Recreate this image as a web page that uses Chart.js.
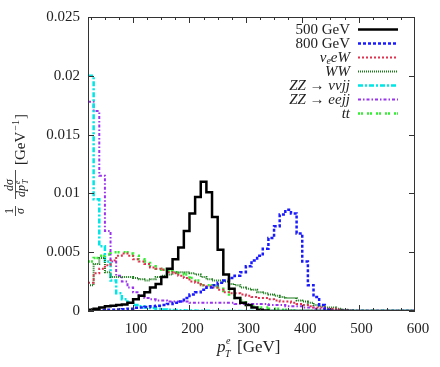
<!DOCTYPE html>
<html>
<head>
<meta charset="utf-8">
<script src="https://cdn.jsdelivr.net/npm/chart.js@4.4.1/dist/chart.umd.min.js"></script>
<style>
  html, body { margin: 0; padding: 0; background: #fff; }
  #wrap { width: 440px; height: 367px; }
</style>
</head>
<body>
<div id="wrap"><canvas id="ptChart" width="440" height="367"></canvas></div>
<script>
// electron pT histograms, 10 GeV bins from 20 to 600 GeV
const binLow = Array.from({ length: 58 }, (_, i) => 20 + 10 * i);
const xMax = 600;
const xTicks = [100, 200, 300, 400, 500, 600];
const yTicks = [0, 0.005, 0.01, 0.015, 0.02, 0.025];
const seriesNames = ['500 GeV', '800 GeV', 'νeeW', 'WW', 'ZZ → ννjj', 'ZZ → eejj', 'tt'];

const sig500 = [0.0001, 0.0002, 0.0003, 0.0004, 0.00045, 0.0005, 0.00055, 0.0007, 0.001, 0.0013,
  0.0016, 0.002, 0.0023, 0.0029, 0.0036, 0.0044, 0.0054, 0.0068, 0.0083, 0.0097,
  0.011, 0.0101, 0.008, 0.0052, 0.0031, 0.0019, 0.0011, 0.0007, 0.0005, 0.0003,
  0.0001, 0.00005, 0, 0, 0, 0, 0, 0, 0, 0,
  0, 0, 0, 0, 0, 0, 0, 0, 0, 0,
  0, 0, 0, 0, 0, 0, 0, 0];
const sig800 = [0.00003, 0.00005, 0.00007, 0.0001, 0.0001, 0.00012, 0.00015, 0.0002, 0.00028, 0.0003,
  0.00035, 0.0004, 0.00045, 0.0005, 0.0006, 0.0007, 0.0008, 0.0011, 0.0014, 0.0016,
  0.0018, 0.002, 0.0022, 0.0024, 0.0026, 0.0028, 0.003, 0.0033, 0.0038, 0.0043,
  0.0047, 0.0053, 0.0062, 0.0072, 0.0082, 0.0086, 0.0083, 0.0066, 0.0042, 0.0022,
  0.0012, 0.0005, 0.0001, 0, 0, 0, 0, 0, 0, 0,
  0, 0, 0, 0, 0, 0, 0, 0];
const nueW = [0.0024, 0.0032, 0.0036, 0.0039, 0.0043, 0.0047, 0.0049, 0.0047, 0.0044, 0.0042,
  0.004, 0.0037, 0.0036, 0.0035, 0.0033, 0.0032, 0.003, 0.0028, 0.0025, 0.0024,
  0.0022, 0.0021, 0.002, 0.0018, 0.0016, 0.0015, 0.0015, 0.0014, 0.0013, 0.0012,
  0.0011, 0.0011, 0.001, 0.0009, 0.0008, 0.0008, 0.0007, 0.0006, 0.0005, 0.0004,
  0.0003, 0.0003, 0.0002, 0.0002, 0.0001, 0.00005, 0.00003, 0, 0, 0,
  0, 0, 0, 0, 0, 0, 0, 0];
const ww = [0.0022, 0.004, 0.0045, 0.0033, 0.0029, 0.0029, 0.0029, 0.0029, 0.0028, 0.0027,
  0.0026, 0.0027, 0.0029, 0.003, 0.0031, 0.0033, 0.0033, 0.0033, 0.0032, 0.0031,
  0.0029, 0.0027, 0.0026, 0.0026, 0.0025, 0.0023, 0.0022, 0.002, 0.0019, 0.0018,
  0.0016, 0.0015, 0.0014, 0.0013, 0.0012, 0.0011, 0.0011, 0.0009, 0.0008, 0.0007,
  0.0005, 0.0004, 0.0003, 0.0003, 0.0002, 0.0001, 0.00005, 0, 0, 0,
  0, 0, 0, 0, 0, 0, 0, 0];
const zzvv = [0.02, 0.0095, 0.0055, 0.0042, 0.0026, 0.0015, 0.001, 0.0007, 0.0005, 0.0004,
  0.0003, 0.00025, 0.0002, 0.00012, 0.0001, 0.00008, 0.00006, 0.00005, 0.00004, 0.00003,
  0.00002, 0.00002, 0.00001, 0.00001, 0, 0, 0, 0, 0, 0,
  0, 0, 0, 0, 0, 0, 0, 0, 0, 0,
  0, 0, 0, 0, 0, 0, 0, 0, 0, 0,
  0, 0, 0, 0, 0, 0, 0, 0];
const zzee = [0.0178, 0.017, 0.0115, 0.0068, 0.0042, 0.003, 0.0025, 0.002, 0.0016, 0.0013,
  0.0011, 0.001, 0.0009, 0.0009, 0.0008, 0.0008, 0.0008, 0.0008, 0.0007, 0.0007,
  0.0007, 0.0007, 0.0007, 0.0007, 0.0007, 0.0007, 0.0006, 0.0006, 0.0006, 0.0006,
  0.0006, 0.0006, 0.0005, 0.0005, 0.0005, 0.0004, 0.0004, 0.0004, 0.0003, 0.0003,
  0.0002, 0.0002, 0.00015, 0.0001, 0.0001, 0.00005, 0.00003, 0, 0, 0,
  0, 0, 0, 0, 0, 0, 0, 0];
const ttbar = [0.0042, 0.0045, 0.0047, 0.0048, 0.005, 0.005, 0.005, 0.0049, 0.0047, 0.0044,
  0.0042, 0.0038, 0.0036, 0.0035, 0.0034, 0.0033, 0.0032, 0.0031, 0.0028, 0.0026,
  0.0022, 0.0022, 0.0021, 0.002, 0.0017, 0.0014, 0.0011, 0.0009, 0.0005, 0.0004,
  0.0003, 0.0003, 0.0002, 0.0002, 0.0001, 0.0001, 0.00005, 0, 0, 0,
  0, 0, 0, 0, 0, 0, 0, 0, 0, 0,
  0, 0, 0, 0, 0, 0, 0, 0];

const serif = '"Liberation Serif", "DejaVu Serif", serif';
const textColor = '#222';

// legend labels with italic / subscript pieces
const legendParts = [
  [['500 GeV', 'r']],
  [['800 GeV', 'r']],
  [['ν', 'i'], ['e', 's'], ['eW', 'i']],
  [['WW', 'i']],
  [['ZZ', 'i'], [' → ', 'r'], ['ννjj', 'i']],
  [['ZZ', 'i'], [' → ', 'r'], ['eejj', 'i']],
  [['tt', 'i']]
];

// histogram as left-edge steps, closed at the right edge
function histPoints(vals) {
  const pts = binLow.map((x, i) => ({ x: x, y: vals[i] }));
  pts.push({ x: xMax, y: vals[vals.length - 1] });
  return pts;
}

function makeSet(idx, vals, color, width, dash) {
  return {
    label: seriesNames[idx],
    data: histPoints(vals),
    borderColor: color,
    backgroundColor: color,
    borderWidth: width,
    borderDash: dash,
    stepped: true,
    pointRadius: 0,
    fill: false
  };
}

function fontFor(kind) {
  if (kind === 'r') return '15px ' + serif;
  if (kind === 'i') return 'italic 15px ' + serif;
  return 'italic 10px ' + serif;
}

const decorPlugin = {
  id: 'decor',
  afterDraw(chart) {
    const ctx = chart.ctx;
    const a = chart.chartArea;
    const xs = chart.scales.x;
    const ys = chart.scales.y;
    ctx.save();

    // frame
    ctx.strokeStyle = '#333';
    ctx.lineWidth = 1;
    ctx.setLineDash([]);
    ctx.strokeRect(a.left + 0.5, a.top + 0.5, a.right - a.left - 1, a.bottom - a.top - 1);

    // inward ticks
    ctx.beginPath();
    for (let v = 25; v < xMax; v += 25) {
      const px = Math.round(xs.getPixelForValue(v)) + 0.5;
      const len = v % 100 === 0 ? 6 : 3;
      ctx.moveTo(px, a.bottom); ctx.lineTo(px, a.bottom - len);
      ctx.moveTo(px, a.top); ctx.lineTo(px, a.top + len);
    }
    yTicks.forEach(v => {
      const py = Math.round(ys.getPixelForValue(v)) + 0.5;
      ctx.moveTo(a.left, py); ctx.lineTo(a.left + 6, py);
      ctx.moveTo(a.right, py); ctx.lineTo(a.right - 6, py);
    });
    ctx.stroke();

    ctx.fillStyle = textColor;
    ctx.textBaseline = 'alphabetic';

    // x title: p_T^e [GeV]
    ctx.textAlign = 'left';
    ctx.font = 'italic 17px ' + serif;
    ctx.fillText('p', 217, 352);
    ctx.font = 'italic 10px ' + serif;
    ctx.fillText('e', 226, 344);
    ctx.fillText('T', 225, 357);
    ctx.font = '17px ' + serif;
    ctx.fillText('[GeV]', 237, 352);

    // y title, rotated
    ctx.save();
    ctx.translate(0, 217);
    ctx.rotate(-Math.PI / 2);
    ctx.strokeStyle = textColor;
    ctx.lineWidth = 0.8;
    ctx.textAlign = 'center';
    ctx.font = '12px ' + serif;
    ctx.fillText('1', 6, 13);
    ctx.beginPath();
    ctx.moveTo(1, 15.5); ctx.lineTo(11, 15.5);
    ctx.moveTo(18, 15.5); ctx.lineTo(47, 15.5);
    ctx.stroke();
    ctx.font = 'italic 12px ' + serif;
    ctx.fillText('σ', 6, 24);
    ctx.fillText('dσ', 32, 13);
    ctx.textAlign = 'left';
    ctx.fillText('dp', 20, 25);
    ctx.font = 'italic 8px ' + serif;
    ctx.fillText('e', 33, 20);
    ctx.fillText('T', 33, 28);
    ctx.font = '15px ' + serif;
    ctx.fillText('[GeV', 52, 25);
    let w = ctx.measureText('[GeV').width;
    ctx.font = '10px ' + serif;
    ctx.fillText('−1', 52 + w + 1, 19);
    w += ctx.measureText('−1').width + 2;
    ctx.font = '15px ' + serif;
    ctx.fillText(']', 52 + w, 25);
    ctx.restore();

    // legend, text right-aligned, sample on the right
    chart.data.datasets.forEach((ds, i) => {
      const y = 29 + 14 * i;
      const parts = legendParts[i];
      let total = 0;
      parts.forEach(p => { ctx.font = fontFor(p[1]); total += ctx.measureText(p[0]).width; });
      let x = 350 - total;
      ctx.textAlign = 'left';
      ctx.fillStyle = textColor;
      parts.forEach(p => {
        ctx.font = fontFor(p[1]);
        ctx.fillText(p[0], x, p[1] === 's' ? y + 7 : y + 5);
        x += ctx.measureText(p[0]).width;
      });
      ctx.beginPath();
      ctx.strokeStyle = ds.borderColor;
      ctx.lineWidth = ds.borderWidth;
      ctx.setLineDash(ds.borderDash);
      ctx.moveTo(358, y + 0.5);
      ctx.lineTo(398, y + 0.5);
      ctx.stroke();
      ctx.setLineDash([]);
    });

    ctx.restore();
  }
};

const ctx = document.getElementById('ptChart').getContext('2d');
new Chart(ctx, {
  type: 'line',
  data: {
    datasets: [
      makeSet(0, sig500, '#000000', 2.5, []),
      makeSet(1, sig800, '#1a1aff', 2.5, [3, 2]),
      makeSet(2, nueW, '#e2304f', 2, [2, 2]),
      makeSet(3, ww, '#1a7a1a', 2, [1, 1]),
      makeSet(4, zzvv, '#00e6e6', 2.5, [5, 2, 2, 2]),
      makeSet(5, zzee, '#9933ee', 2, [3, 2, 1.5, 2]),
      makeSet(6, ttbar, '#33ee33', 2.5, [2, 1, 2, 4])
    ]
  },
  options: {
    responsive: false,
    animation: false,
    devicePixelRatio: 1,
    layout: { padding: { top: 17, right: 25, left: 0, bottom: 0 } },
    plugins: {
      legend: { display: false },
      tooltip: { enabled: false }
    },
    scales: {
      x: {
        type: 'linear',
        min: 20,
        max: xMax,
        afterBuildTicks: s => { s.ticks = xTicks.map(v => ({ value: v })); },
        afterFit: s => { s.height = 56; },
        grid: { display: false, drawTicks: false },
        border: { display: false },
        ticks: {
          padding: 9,
          labelOffset: 3,
          maxRotation: 0,
          color: textColor,
          font: { family: serif, size: 15 },
          callback: v => String(v)
        }
      },
      y: {
        min: 0,
        max: 0.025,
        afterBuildTicks: s => { s.ticks = yTicks.map(v => ({ value: v })); },
        afterFit: s => { s.width = 88; },
        grid: { display: false, drawTicks: false },
        border: { display: false },
        ticks: {
          padding: 8,
          color: textColor,
          font: { family: serif, size: 15 },
          callback: v => (v === 0 ? '0' : String(v))
        }
      }
    }
  },
  plugins: [decorPlugin]
});
</script>
</body>
</html>
